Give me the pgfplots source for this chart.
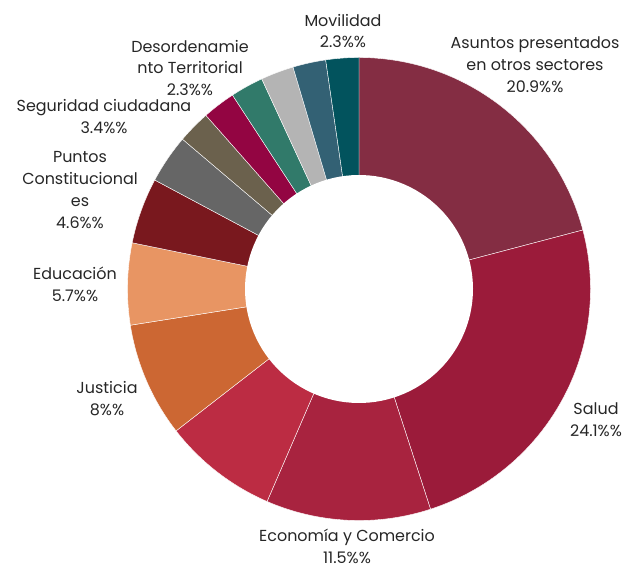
\documentclass[border=0pt]{standalone}
\usepackage{pgfplots}
\pgfplotsset{compat=1.18}
\usepackage{fontspec}
\setmainfont{Poppins}

\definecolor{cA}{HTML}{842D43}
\definecolor{cB}{HTML}{9B1B3A}
\definecolor{cC}{HTML}{A8233F}
\definecolor{cD}{HTML}{BC2C43}
\definecolor{cE}{HTML}{CC6733}
\definecolor{cF}{HTML}{E89563}
\definecolor{cG}{HTML}{79181E}
\definecolor{cH}{HTML}{666666}
\definecolor{cI}{HTML}{6B614D}
\definecolor{cJ}{HTML}{930542}
\definecolor{cK}{HTML}{317A6A}
\definecolor{cL}{HTML}{B4B4B4}
\definecolor{cM}{HTML}{336174}
\definecolor{cN}{HTML}{02535D}

% centre and radius of the ring, in axis units (1 unit = 1bp)
\def\cx{359}\def\cy{280}\def\R{231.5}\def\r{114}
\gdef\cum{0}
% one wedge per share, starting at 12 o'clock and going clockwise
\newcommand\slice[2]{%
  \pgfmathsetmacro\sa{\cum}%
  \pgfmathsetmacro\sb{\cum+#1}%
  \edef\doslice{\noexpand\addplot[fill=#2, draw=white, line width=0.4pt,
      domain=\sa:\sb, samples=60]
    ({\cx+\R*cos(90-3.6*x)}, {\cy+\R*sin(90-3.6*x)}) -- (axis cs:\cx,\cy) -- cycle;}%
  \doslice
  \xdef\cum{\sb}%
}

\begin{document}
\begin{tikzpicture}[lbl/.style={align=center, inner sep=0pt, text=black!85,
        font=\fontsize{16}{22}\selectfont}]
\begin{axis}[
    scale only axis, width=630bp, height=569bp,
    xmin=0, xmax=630, ymin=0, ymax=569,
    hide axis, clip=false]
  \slice{20.9}{cA}% Asuntos presentados en otros sectores
  \slice{24.1}{cB}% Salud
  \slice{11.5}{cC}% Economia y Comercio
  \slice{8.0}{cD}
  \slice{8.0}{cE}% Justicia
  \slice{5.7}{cF}% Educacion
  \slice{4.6}{cG}% Puntos Constitucionales
  \slice{3.4}{cH}% Seguridad ciudadana
  \slice{2.3}{cI}
  \slice{2.3}{cJ}% Desordenamiento Territorial
  \slice{2.3}{cK}
  \slice{2.3}{cL}
  \slice{2.3}{cM}
  \slice{2.3}{cN}% Movilidad
  % hole
  \addplot[fill=white, draw=none, domain=0:360, samples=120]
    ({\cx+\r*cos(x)}, {\cy+\r*sin(x)}) -- cycle;

  \node[lbl] at (axis cs:343,538) {Movilidad\\2.3\%\%};
  \node[lbl] at (axis cs:535,504.5) {Asuntos presentados\\en otros sectores\\20.9\%\%};
  \node[lbl] at (axis cs:190,501) {Desordenamie\\nto Territorial\\2.3\%\%};
  \node[lbl] at (axis cs:104,452.5) {Seguridad ciudadana\\3.4\%\%};
  \node[lbl] at (axis cs:80,379) {Puntos\\Constitucional\\es\\4.6\%\%};
  \node[lbl] at (axis cs:75,284.5) {Educación\\5.7\%\%};
  \node[lbl] at (axis cs:107,170.5) {Justicia\\8\%\%};
  \node[lbl] at (axis cs:596,149.5) {Salud\\24.1\%\%};
  \node[lbl] at (axis cs:347,22.5) {Economía y Comercio\\11.5\%\%};
\end{axis}
\pgfresetboundingbox
\useasboundingbox (current axis.south west) rectangle (current axis.north east);
\end{tikzpicture}
\end{document}
